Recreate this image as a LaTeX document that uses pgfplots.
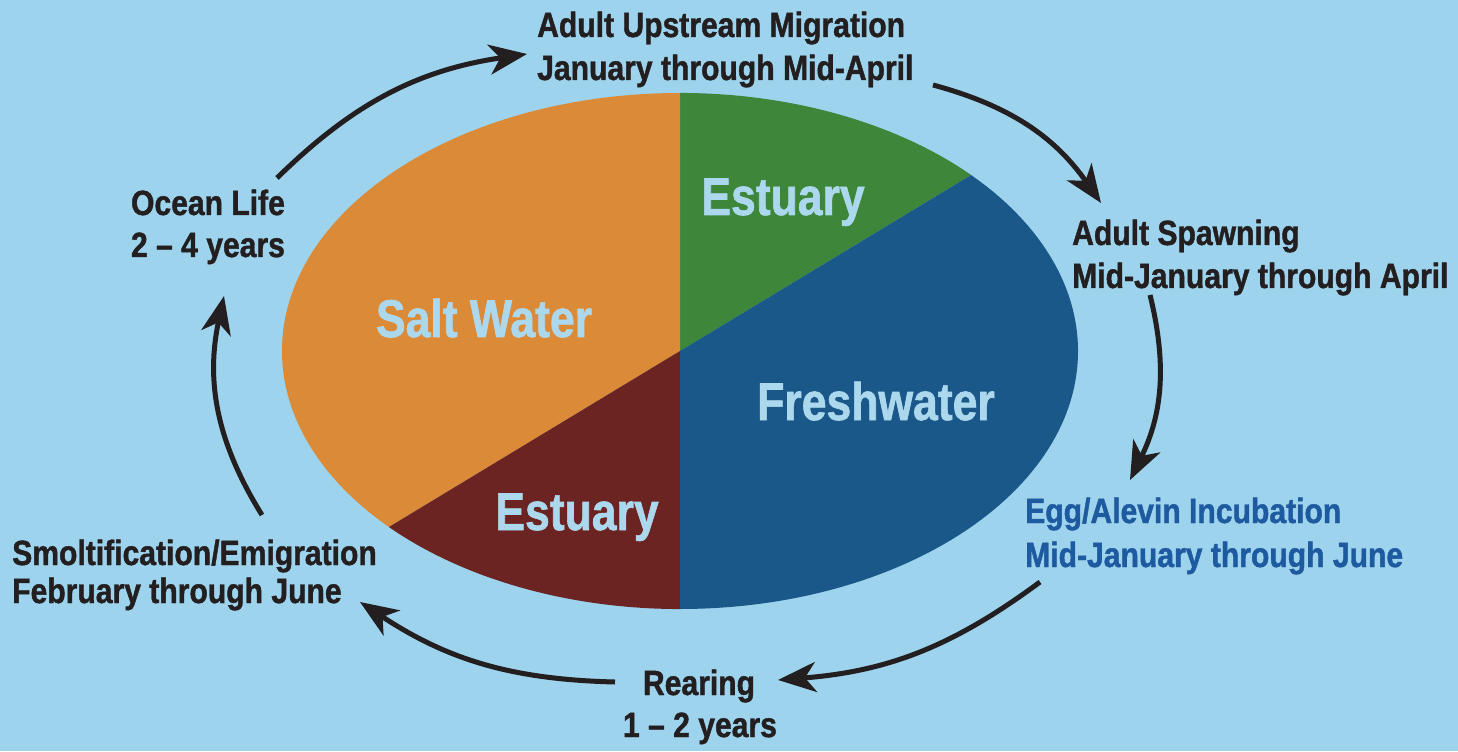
\documentclass[border=0pt]{standalone}
\usepackage{pgfplots}
\pgfplotsset{compat=1.18}
\usepackage{fontspec}
\usetikzlibrary{arrows.meta}
\newfontfamily\outerfont{Liberation Sans}[FakeStretch=0.86, BoldFeatures={FakeBold=1.2}]
\newfontfamily\slicefont{Liberation Sans}[FakeStretch=0.84, BoldFeatures={FakeBold=1.2}]
\definecolor{bgc}{RGB}{157,211,236}
\definecolor{saltc}{RGB}{219,138,56}
\definecolor{estgc}{RGB}{61,134,58}
\definecolor{freshc}{RGB}{27,88,138}
\definecolor{estrc}{RGB}{108,36,34}
\definecolor{lblc}{RGB}{172,216,238}
\definecolor{txtc}{RGB}{35,31,32}
\definecolor{bluetxt}{RGB}{30,90,160}
\tikzset{
  outer/.style={inner sep=0pt, text=txtc, font=\outerfont\bfseries\fontsize{35bp}{43bp}\selectfont},
  slice/.style={inner sep=0pt, text=lblc, anchor=base, font=\slicefont\bfseries\fontsize{53bp}{60bp}\selectfont},
  cyc/.style={line width=5bp, draw=txtc, -{Stealth[length=38bp,width=30bp,inset=11bp]}}
}
\begin{document}
\begin{tikzpicture}
\begin{axis}[width=1458bp,height=751bp,scale only axis,
  xmin=0,xmax=1458,ymin=0,ymax=751,
  axis lines=none, ticks=none, clip=false]
\fill[bgc] (0,0) rectangle (1458,751);
% pie slices: centre (680,400), radii 398 x 258; boundaries at 43, 90, 223, 270 degrees
\fill[estgc]  (680,400) -- (971.1,576.0) arc[start angle=43,  end angle=90,  x radius=398bp, y radius=258bp] -- cycle;
\fill[saltc]  (680,400) -- (680,658)     arc[start angle=90,  end angle=223, x radius=398bp, y radius=258bp] -- cycle;
\fill[estrc]  (680,400) -- (388.9,224.0) arc[start angle=223, end angle=270, x radius=398bp, y radius=258bp] -- cycle;
\fill[freshc] (680,400) -- (680,142)     arc[start angle=270, end angle=403, x radius=398bp, y radius=258bp] -- cycle;
% slice labels
\node[slice] at (484,414) {Salt Water};
\node[slice] at (783,536) {Estuary};
\node[slice] at (876,331) {Freshwater};
\node[slice] at (577,221) {Estuary};
% cycle arrows
\draw[cyc] (262,236) to[bend left=22] (224,455);
\draw[cyc] (277,573) to[bend left=18] (527,697);
\draw[cyc] (933,666) to[bend left=20] (1101,548);
\draw[cyc] (1150,456) to[bend left=20] (1130,271);
\draw[cyc] (1040,169) to[bend left=16] (778,71);
\draw[cyc] (615,69) to[bend left=16] (360,149);
% stage labels
\node[outer, anchor=base west] at (537,714) {Adult Upstream Migration};
\node[outer, anchor=base west] at (537,671) {January through Mid-April};
\node[outer, anchor=base west] at (1072,506) {Adult Spawning};
\node[outer, anchor=base west] at (1072,463) {Mid-January through April};
\node[outer, anchor=base west, text=bluetxt] at (1025,228) {Egg/Alevin Incubation};
\node[outer, anchor=base west, text=bluetxt] at (1025,184) {Mid-January through June};
\node[outer, anchor=base] at (699,56) {Rearing};
\node[outer, anchor=base] at (700,14) {1 – 2 years};
\node[outer, anchor=base west] at (12,186) {Smoltification/Emigration};
\node[outer, anchor=base west] at (12,148) {February through June};
\node[outer, anchor=base] at (208,536) {Ocean Life};
\node[outer, anchor=base] at (208,494) {2 – 4 years};
\end{axis}
\end{tikzpicture}
\end{document}
